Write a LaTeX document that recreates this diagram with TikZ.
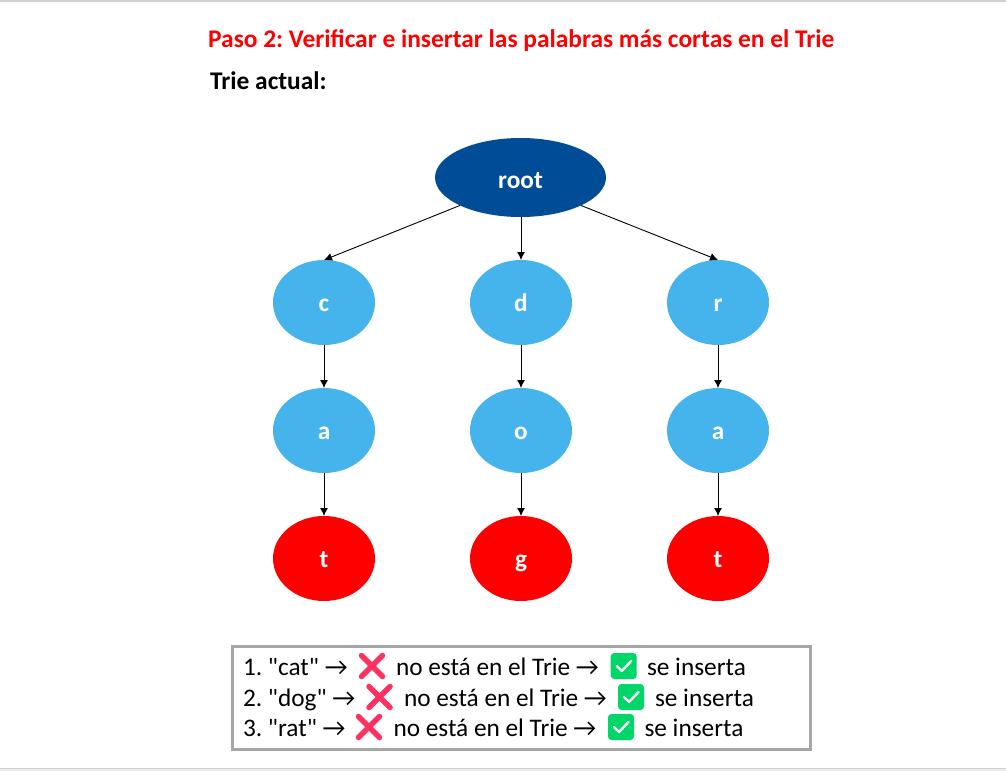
\documentclass[tikz,border=0pt]{standalone}
\usepackage{fontspec}
\setmainfont{Carlito}
\newfontfamily\plainfont{Carlito}
\usetikzlibrary{shapes.geometric,arrows.meta}
\definecolor{rootblue}{HTML}{004C97}
\definecolor{nodeblue}{HTML}{45B4EC}
\definecolor{leafred}{HTML}{FF0000}
\definecolor{crossred}{HTML}{FF3160}
\definecolor{checkgreen}{HTML}{00D768}
\definecolor{boxgray}{HTML}{A6A6A6}
\definecolor{edgegray}{HTML}{D0D0D0}
\tikzset{
  x=1pt,y=-1pt,
  trienode/.style={ellipse,minimum width=102pt,minimum height=85pt,inner sep=0pt,outer sep=0pt,text=white,text height=18pt,text depth=0pt,font=\fontsize{25.3}{28}\selectfont\bfseries},
  midnode/.style={trienode,fill=nodeblue},
  leafnode/.style={trienode,fill=leafred},
  rootnode/.style={trienode,fill=rootblue,minimum width=171pt,minimum height=79pt,text height=21pt},
  link/.style={draw=black,line width=0.9pt,-{Latex[length=8pt,width=8pt]}},
  listtext/.style={anchor=base west,inner sep=0pt,outer sep=0pt,font=\plainfont\fontsize{25.3}{28}\selectfont},
  crossicon/.pic={\draw[crossred,line width=5.5pt,line cap=round] (-10.5,-10.5) -- (10.5,10.5) (-10.5,10.5) -- (10.5,-10.5);},
  checkicon/.pic={\fill[checkgreen,rounded corners=3.5pt] (-13,-13) rectangle (13,13);
    \draw[white,line width=2.4pt,line cap=round,line join=round] (-7,0) -- (-2,5) -- (7.5,-5);},
}
\begin{document}
\begin{tikzpicture}
\frenchspacing
\useasboundingbox (0,0) rectangle (1006,771);
\fill[edgegray] (0,0) rectangle (1006,2);
\fill[edgegray] (0,768) rectangle (1006,769);
\fill[black!7] (0,769) rectangle (1006,771);
\node[anchor=base west,inner sep=0pt,text=leafred,font=\fontsize{25.4}{28}\selectfont\bfseries] (title) at (208,47) {Paso 2: Verificar e insertar las palabras más cortas en el Trie};
\node[anchor=base west,inner sep=0pt,font=\fontsize{25.4}{28}\selectfont\bfseries] (sub) at (210,89) {Trie actual:};
\node[rootnode] (root) at (520.5,177.5) {root};
\node[midnode] (c) at (324,302.5) {c};
\node[midnode] (d) at (521,302.5) {d};
\node[midnode] (r) at (718,302.5) {r};
\node[midnode] (a1) at (324,430.5) {a};
\node[midnode] (o) at (521,430.5) {o};
\node[midnode] (a2) at (718,430.5) {a};
\node[leafnode] (t1) at (324,558.5) {t};
\node[leafnode] (g) at (521,558.5) {g};
\node[leafnode] (t2) at (718,558.5) {t};
\draw[link] (root.south west) -- (c.north);
\draw[link] (d|-root.south) -- (d.north);
\draw[link] (root.south east) -- (r.north);
\draw[link] (c) -- (a1);
\draw[link] (d) -- (o);
\draw[link] (r) -- (a2);
\draw[link] (a1) -- (t1);
\draw[link] (o) -- (g);
\draw[link] (a2) -- (t2);
\draw[boxgray,line width=3pt] (232.5,646) rectangle (810.5,749);
\node[listtext] (l1a) at (243,675) {1. "cat" →};
\pic at (372,666) {crossicon};
\node[listtext] (l1b) at (396,675) {no está en el Trie →};
\pic at (623.7,666) {checkicon};
\node[listtext] (l1c) at (647,675) {se inserta};
\node[listtext] (l2a) at (243,706) {2. "dog" →};
\pic at (379.5,697) {crossicon};
\node[listtext] (l2b) at (404,706) {no está en el Trie →};
\pic at (631,697) {checkicon};
\node[listtext] (l2c) at (655,706) {se inserta};
\node[listtext] (l3a) at (243,736) {3. "rat" →};
\pic at (369,727) {crossicon};
\node[listtext] (l3b) at (393.5,736) {no está en el Trie →};
\pic at (621,727) {checkicon};
\node[listtext] (l3c) at (644.5,736) {se inserta};
\end{tikzpicture}
\end{document}
